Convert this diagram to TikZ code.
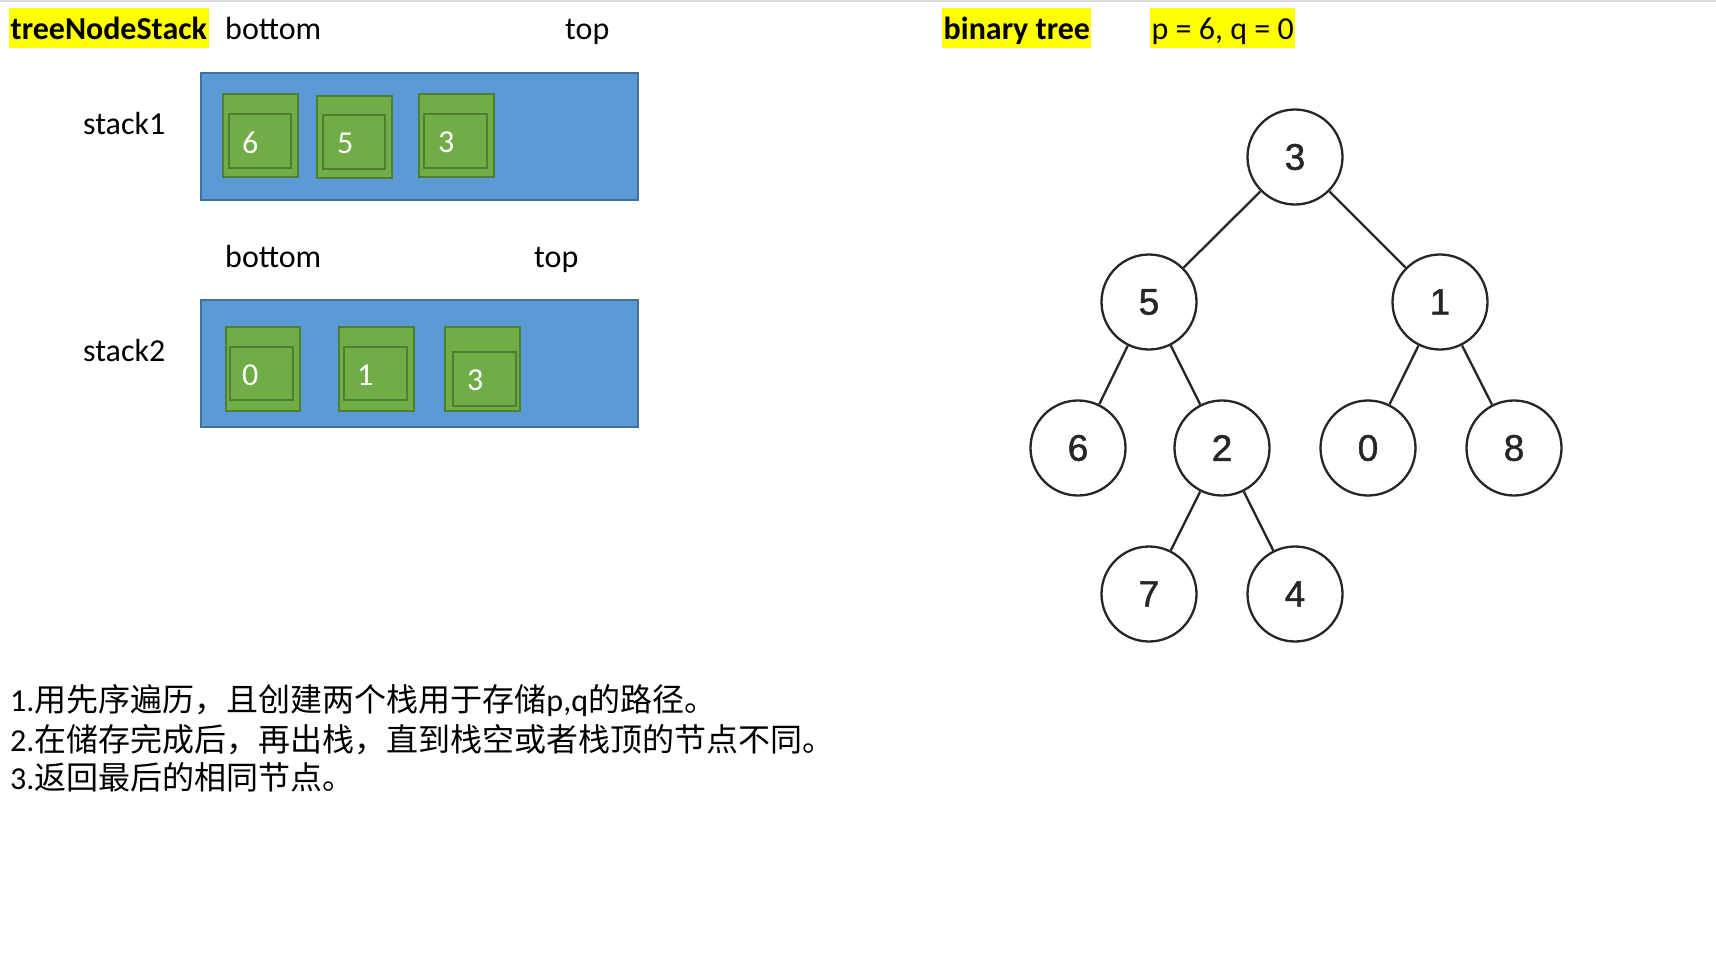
\documentclass[tikz,border=0pt]{standalone}
\usepackage{fontspec}
\setmainfont{Carlito}
\newfontfamily\cjk{Noto Sans CJK SC}
\newfontfamily\treefont[FakeBold=1.2]{Liberation Sans}
\definecolor{bluefill}{HTML}{5B9BD5}
\definecolor{blueline}{HTML}{41719C}
\definecolor{greenfill}{HTML}{70AD47}
\definecolor{greenline}{HTML}{507E32}
\definecolor{hl}{HTML}{FFFF00}
\definecolor{treeline}{HTML}{262626}
\begin{document}
\begin{tikzpicture}[x=1pt,y=-1pt,
  txt/.style={font=\fontsize{32}{39}\selectfont, inner sep=0pt, anchor=base west},
  hlbox/.style={fill=hl, font=\fontsize{32}{39}\selectfont\bfseries, inner xsep=1.5pt, inner ysep=0pt, text height=31pt, text depth=9pt, anchor=west},
  stackbox/.style={draw=blueline, fill=bluefill, line width=1.5pt},
  greenbox/.style={draw=greenline, fill=greenfill, line width=1.5pt},
  digit/.style={txt, text=white},
  tnode/.style={circle, draw=treeline, fill=white, line width=2.3pt, minimum size=95pt, inner sep=0pt, text=treeline, font=\treefont\fontsize{37}{37}\selectfont},
  tedge/.style={draw=treeline, line width=2.3pt}
]
\useasboundingbox (0,0) rectangle (1716,970);
\fill[white] (0,0) rectangle (1716,970);
\fill[black!15] (0,0) rectangle (1716,2);

% headers
\node[hlbox] (h1) at (9,28) {treeNodeStack};
\node[txt] (b1) at (225,39) {bottom};
\node[txt] (t1) at (565,39) {top};
\node[hlbox] (h2) at (942,28) {binary tree};
\node[hlbox, font=\fontsize{32}{39}\selectfont\mdseries] (h3) at (1150,28) {p = 6, q = 0};

% stack1
\node[txt] (lab1) at (83,134) {stack1};
\draw[stackbox] (201,73) rectangle (638,200);
\draw[greenbox] (223,94) rectangle (298,177);
\draw[greenbox] (229,114) rectangle (291,168);
\draw[greenbox] (317,96) rectangle (392,178);
\draw[greenbox] (323,115) rectangle (385,169);
\draw[greenbox] (419,94) rectangle (494,177);
\draw[greenbox] (424,114) rectangle (487,168);
\node[digit] (d11) at (242,153) {6};
\node[digit] (d12) at (337,153) {5};
\node[digit] (d13) at (438,152) {3};

% stack2
\node[txt] (b2) at (225,267) {bottom};
\node[txt] (t2) at (534,267) {top};
\node[txt] (lab2) at (83,361) {stack2};
\draw[stackbox] (201,300) rectangle (638,427);
\draw[greenbox] (226,327) rectangle (300,411);
\draw[greenbox] (230,347) rectangle (293,400);
\draw[greenbox] (339,327) rectangle (414,411);
\draw[greenbox] (344,347) rectangle (407,400);
\draw[greenbox] (445,327) rectangle (520,411);
\draw[greenbox] (453,352) rectangle (516,406);
\node[digit] (d21) at (242,385) {0};
\node[digit] (d22) at (357,385) {1};
\node[digit] (d23) at (467,390) {3};

% tree
\node[tnode] (n3) at (1295,157) {3};
\node[tnode] (n5) at (1149,302) {5};
\node[tnode] (n1) at (1440,302) {1};
\node[tnode] (n6) at (1078,448) {6};
\node[tnode] (n2) at (1222,448) {2};
\node[tnode] (n0) at (1368,448) {0};
\node[tnode] (n8) at (1514,448) {8};
\node[tnode] (n7) at (1149,594) {7};
\node[tnode] (n4) at (1295,594) {4};
\draw[tedge] (n3) -- (n5);
\draw[tedge] (n3) -- (n1);
\draw[tedge] (n5) -- (n6);
\draw[tedge] (n5) -- (n2);
\draw[tedge] (n1) -- (n0);
\draw[tedge] (n1) -- (n8);
\draw[tedge] (n2) -- (n7);
\draw[tedge] (n2) -- (n4);

% notes
\node[txt] (l1) at (10,711) {1.{\cjk 用先序遍历，且创建两个栈用于存储}p,q{\cjk 的路径。}};
\node[txt] (l2) at (10,751) {2.{\cjk 在储存完成后，再出栈，直到栈空或者栈顶的节点不同。}};
\node[txt] (l3) at (10,789) {3.{\cjk 返回最后的相同节点。}};
\end{tikzpicture}
\end{document}
